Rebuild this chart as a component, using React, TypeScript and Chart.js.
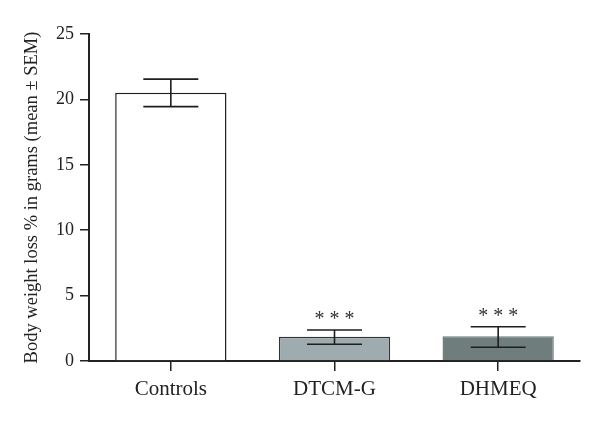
import React, { useEffect, useRef } from "react";
import { Chart, registerables } from "chart.js";

Chart.register(...registerables);

const categories = ["Controls", "DTCM-G", "DHMEQ"];
const means = [20.5, 1.85, 1.9];
const errLow = [19.45, 1.28, 1.05];
const errHigh = [21.55, 2.37, 2.62];
const significance = ["", "* * *", "* * *"];
const yTicks = [0, 5, 10, 15, 20, 25];
const yTitle = "Body weight loss % in grams (mean \u00B1 SEM)";

const fillColors = ["#ffffff", "#9eabaf", "#6f7e7d"];
const borderColors = ["#222222", "#333333", "#6f7e7d"];
const FONT = "'Liberation Serif', 'DejaVu Serif', serif";

const errorBarPlugin = {
  id: "errorBars",
  afterDatasetsDraw(chart: any) {
    const ctx = chart.ctx;
    const meta = chart.getDatasetMeta(0);
    const y = chart.scales.y;
    ctx.save();
    ctx.strokeStyle = "#1e1e1e";
    ctx.lineWidth = 1.6;
    meta.data.forEach((bar: any, i: number) => {
      const x = bar.x;
      const yl = y.getPixelForValue(errLow[i]);
      const yh = y.getPixelForValue(errHigh[i]);
      const hw = 27.5;
      ctx.beginPath();
      ctx.moveTo(x, yl);
      ctx.lineTo(x, yh);
      ctx.moveTo(x - hw, yl);
      ctx.lineTo(x + hw, yl);
      ctx.moveTo(x - hw, yh);
      ctx.lineTo(x + hw, yh);
      ctx.stroke();
      if (significance[i]) {
        ctx.fillStyle = "#333";
        ctx.font = "20px " + FONT;
        ctx.textAlign = "center";
        ctx.textBaseline = "alphabetic";
        ctx.fillText(significance[i], x, yh - 5);
      }
    });
    ctx.restore();
  },
};

export default function App() {
  const ref = useRef<HTMLCanvasElement>(null);
  useEffect(() => {
    const chart = new Chart(ref.current as HTMLCanvasElement, {
      type: "bar",
      data: {
        labels: categories,
        datasets: [
          {
            data: means,
            backgroundColor: fillColors,
            borderColor: borderColors,
            borderWidth: 1.5,
            barPercentage: 0.68,
            categoryPercentage: 1,
          },
        ],
      },
      options: {
        responsive: false,
        animation: false,
        devicePixelRatio: 1,
        layout: { padding: { top: 34, right: 20, left: 0, bottom: 0 } },
        plugins: { legend: { display: false }, tooltip: { enabled: false } },
        scales: {
          x: {
            grid: {
              offset: false,
              drawOnChartArea: false,
              drawTicks: true,
              tickLength: 10,
              color: "#222",
              lineWidth: 1.5,
            },
            border: { color: "#222", width: 2 },
            ticks: { color: "#222", font: { family: FONT, size: 21 }, padding: 6 },
            afterFit(scale: any) {
              scale.height = 61;
            },
          },
          y: {
            min: 0,
            max: 25,
            afterBuildTicks(scale: any) {
              scale.ticks = yTicks.map((v) => ({ value: v }));
            },
            grid: {
              drawOnChartArea: false,
              drawTicks: true,
              tickLength: 9,
              color: "#222",
              lineWidth: 1.5,
            },
            border: { color: "#222", width: 2 },
            ticks: { color: "#222", font: { family: FONT, size: 18 }, padding: 6 },
            title: {
              display: true,
              text: yTitle,
              color: "#222",
              font: { family: FONT, size: 18.5 },
              padding: { top: 21, bottom: 0 },
            },
            afterFit(scale: any) {
              scale.width = 89;
            },
          },
        },
      },
      plugins: [errorBarPlugin],
    } as any);
    return () => chart.destroy();
  }, []);
  return (
    <div style={{ position: "fixed", left: 0, top: 0, width: 600, height: 422, background: "#fff" }}>
      <canvas ref={ref} width={600} height={422} />
    </div>
  );
}
